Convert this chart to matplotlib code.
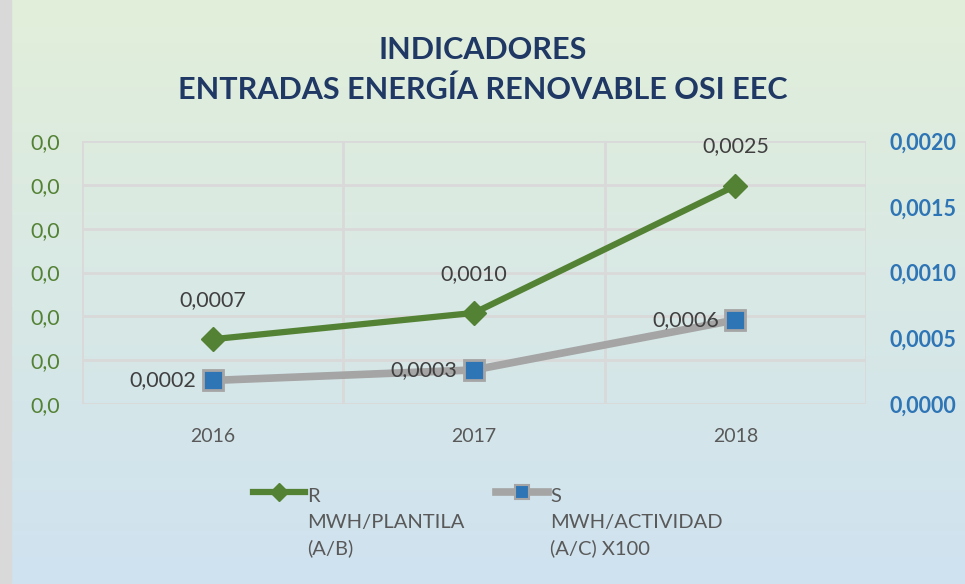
import numpy as np
import matplotlib
matplotlib.use('Agg')
import matplotlib.pyplot as plt
from matplotlib.lines import Line2D
from matplotlib.legend_handler import HandlerLine2D
from matplotlib.transforms import Affine2D
from matplotlib.patches import Rectangle

plt.rcParams['font.family'] = ['Lato', 'DejaVu Sans']

# data
years = ['2016', '2017', '2018']
r_vals = [0.00074, 0.00104, 0.00249]   # MWH/PLANTILA (A/B), left axis
s_vals = [0.00018, 0.00026, 0.00064]   # MWH/ACTIVIDAD (A/C) X100, right axis
r_label = 'R\nMWH/PLANTILA\n(A/B)'
s_label = 'S\nMWH/ACTIVIDAD\n(A/C) X100'
left_ticks = [0, 0.0005, 0.001, 0.0015, 0.002, 0.0025, 0.003]
right_ticks = [0, 0.0005, 0.001, 0.0015, 0.002]

green = '#548235'
gray = '#A5A5A5'
blue = '#2E75B6'
txt = '#404040'
grid_c = '#D9D9D9'


def comma(v, nd):
    return ('{:.' + str(nd) + 'f}').format(v).replace('.', ',')


class UpHandler(HandlerLine2D):
    # keep the legend marker on the first line of a multi-line label
    def __init__(self, dy, **kw):
        super().__init__(**kw)
        self.dy = dy

    def create_artists(self, legend, orig_handle, xdescent, ydescent,
                       width, height, fontsize, trans):
        trans = Affine2D().translate(0, self.dy) + trans
        return super().create_artists(legend, orig_handle, xdescent, ydescent,
                                      width, height, fontsize, trans)


fig = plt.figure(figsize=(9.65, 5.84), dpi=100)

# gradient background
bg = fig.add_axes([0, 0, 1, 1], zorder=-10)
grad = np.linspace(0, 1, 256).reshape(-1, 1)
top = np.array([0.886, 0.937, 0.855])
bot = np.array([0.812, 0.886, 0.941])
img = top[None, None, :] * (1 - grad[:, :, None]) + bot[None, None, :] * grad[:, :, None]
bg.imshow(img, aspect='auto', extent=[0, 1, 0, 1])
bg.add_patch(Rectangle((0, 0), 0.011, 1, color='#D9D9D9', transform=bg.transAxes))
bg.set_xlim(0, 1)
bg.set_ylim(0, 1)
bg.axis('off')

ax = fig.add_axes([0.085, 0.308, 0.8125, 0.4506])
ax.set_facecolor('none')
x = np.arange(len(years))

ax.set_xlim(-0.5, len(years) - 0.5)
ax.set_ylim(0, 0.003)
ax.set_yticks(left_ticks)
ax.set_yticklabels([comma(t, 1) for t in left_ticks])
ax.set_xticks(x)
ax.set_xticklabels(years)
ax.set_xticks(np.arange(len(years) + 1) - 0.5, minor=True)
ax.grid(True, axis='y', color=grid_c, lw=2)
ax.grid(True, axis='x', which='minor', color=grid_c, lw=2)
ax.tick_params(axis='x', which='both', length=0, pad=17, labelsize=14, labelcolor='#595959')
ax.tick_params(axis='y', length=0, pad=16, labelsize=15.5, labelcolor=green)
for s in ax.spines.values():
    s.set_visible(False)
ax.set_axisbelow(True)

ax2 = ax.twinx()
ax2.set_ylim(0, 0.002)
ax2.set_yticks(right_ticks)
ax2.set_yticklabels([comma(t, 4) for t in right_ticks])
ax2.tick_params(axis='y', length=0, pad=17, labelsize=15.5, labelcolor=blue)
for lab in ax2.get_yticklabels():
    lab.set_fontweight('bold')
for s in ax2.spines.values():
    s.set_visible(False)

ax.plot(x, r_vals, color=green, lw=4.5, marker='D', ms=12, mfc=green, mec=green,
        zorder=5, solid_capstyle='round')
ax2.plot(x, s_vals, color=gray, lw=5.5, marker='s', ms=14, mfc=blue, mec=gray,
         mew=2, zorder=5)

for xi, v in zip(x, r_vals):
    ax.annotate(comma(v, 4), (xi, v), xytext=(0, 21), textcoords='offset points',
                ha='center', va='bottom', fontsize=15.5, color=txt, zorder=8)
for xi, v in zip(x, s_vals):
    ax2.annotate(comma(v, 4), (xi, v), xytext=(-12, 0), textcoords='offset points',
                 ha='right', va='center', fontsize=15.5, color=txt, zorder=8)

fig.text(0.5, 0.88, 'INDICADORES\nENTRADAS ENERGÍA RENOVABLE OSI EEC',
         ha='center', va='center', fontsize=22, fontweight='bold',
         color='#1F3864', linespacing=1.5)

h1 = Line2D([], [], color=green, lw=4.5, marker='D', ms=9, mfc=green, mec=green)
h2 = Line2D([], [], color=gray, lw=5.5, marker='s', ms=10, mfc=blue, mec=gray, mew=1.5)
leg = fig.legend([h1, h2], [r_label, s_label], loc='upper left',
                 bbox_to_anchor=(0.243, 0.195), ncol=2, frameon=False,
                 fontsize=14.5, handlelength=2.6, handletextpad=0.1,
                 columnspacing=1.55,
                 handler_map={h1: UpHandler(22), h2: UpHandler(22)})
for t in leg.get_texts():
    t.set_color('#595959')
    t.set_linespacing(1.6)

fig.savefig('out.png', dpi=100)
